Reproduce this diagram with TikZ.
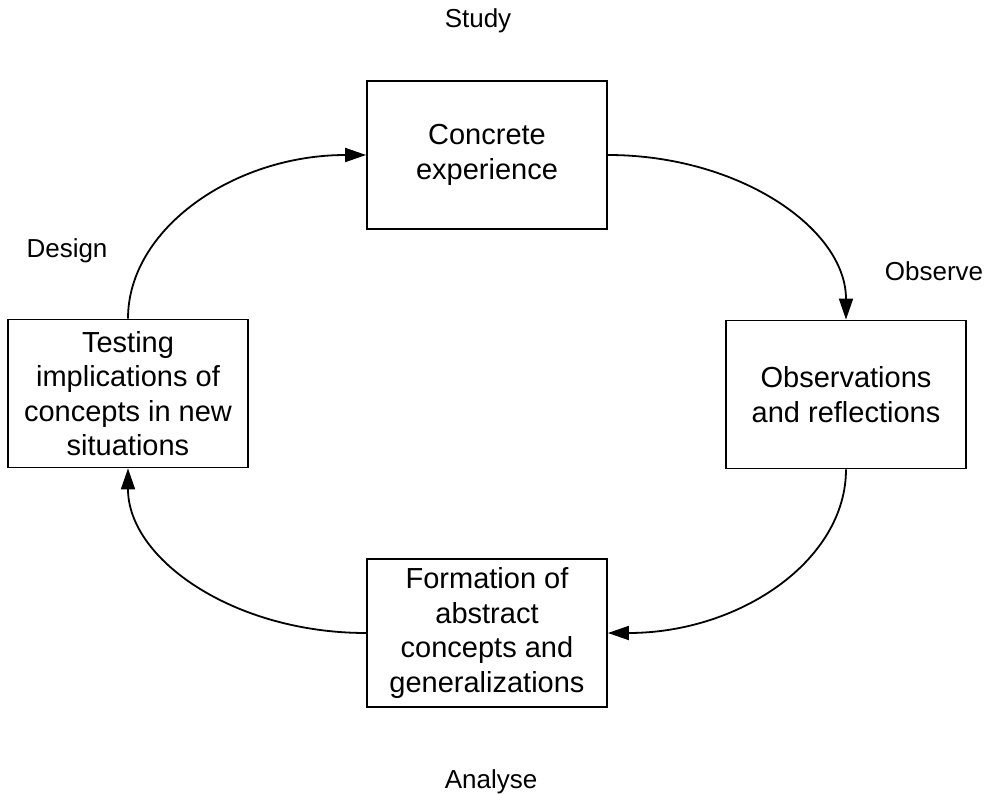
\documentclass[tikz,border=0pt]{standalone}
\usepackage{fontspec}
\setmainfont{Liberation Sans}
\usetikzlibrary{arrows.meta}

\tikzset{
  stagebox/.style={draw, line width=1.8pt, minimum width=240pt, minimum height=148pt,
    inner sep=0pt, align=center, font=\fontsize{29}{34.5}\selectfont},
  cyclelabel/.style={anchor=base, inner sep=0pt, font=\fontsize{26}{30}\selectfont},
  cyclearrow/.style={line width=1.8pt, -{Triangle[length=21pt,width=14pt]}}
}

\begin{document}
\begin{tikzpicture}[x=1pt, y=-1pt]
  \useasboundingbox (0,0) rectangle (996,794);

  % the four stages of the learning cycle
  \node[stagebox] (ce)  at (487,155)   {Concrete\\experience};
  \node[stagebox] (obs) at (846,394.5) {Observations\\and reflections};
  \node[stagebox] (abs) at (487,633)   {Formation of\\abstract\\concepts and\\generalizations};
  \node[stagebox] (tst) at (128,393.5) {Testing\\implications of\\concepts in new\\situations};

  % activity labels
  \node[cyclelabel] (study)   at (478,28)  {Study};
  \node[cyclelabel] (observe) at (934,281) {Observe};
  \node[cyclelabel] (analyse) at (491,788) {Analyse};
  \node[cyclelabel] (design)  at (67,258)  {Design};

  % quarter-ellipse arrows joining the stages
  \draw[cyclearrow] (ce.east)  .. controls +(131,0)  and +(0,-91)  .. (obs.north);
  \draw[cyclearrow] (obs.south) .. controls +(0,91)  and +(132,0)  .. (abs.east);
  \draw[cyclearrow] (abs.west) .. controls +(-132,0) and +(0,91)   .. (tst.south);
  \draw[cyclearrow] (tst.north) .. controls +(0,-90) and +(-132,0) .. (ce.west);
\end{tikzpicture}
\end{document}
